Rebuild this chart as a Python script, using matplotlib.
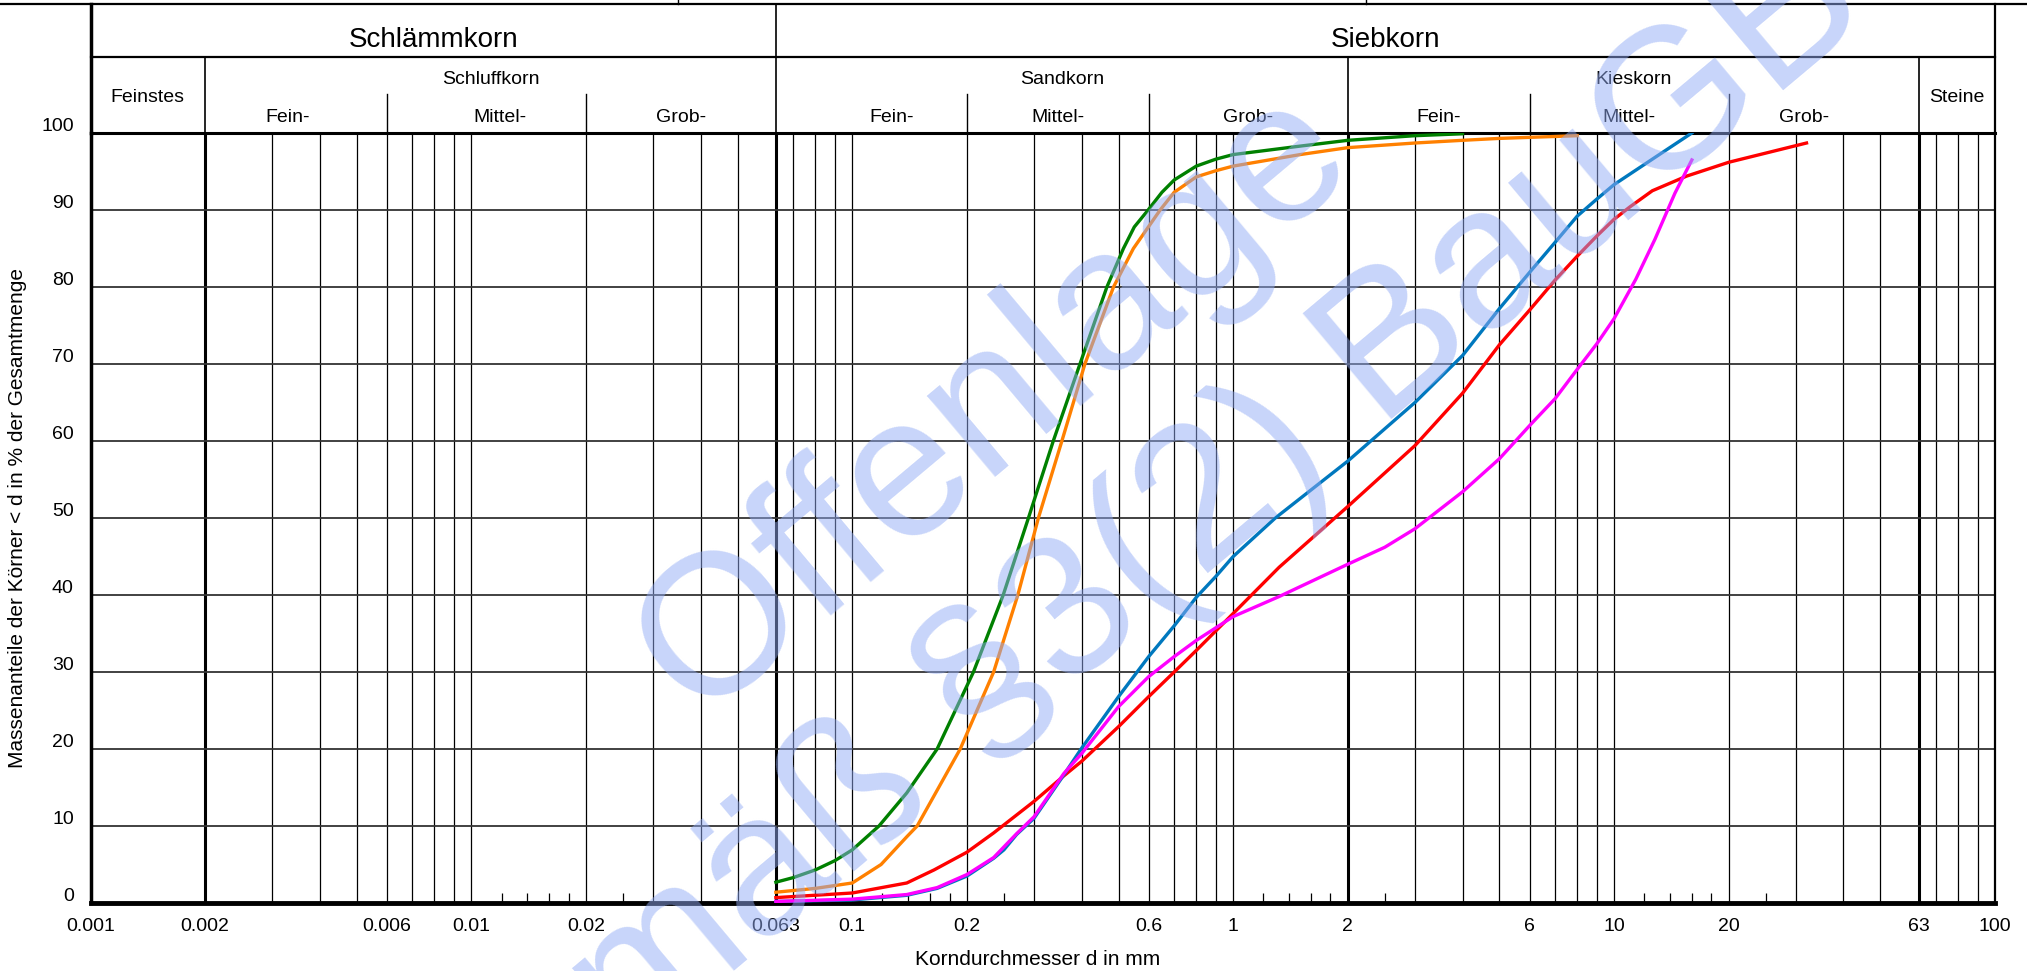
import matplotlib
matplotlib.use("Agg")
import matplotlib.pyplot as plt
from matplotlib.lines import Line2D
from matplotlib.ticker import NullLocator
from matplotlib.transforms import ScaledTranslation

# Körnungslinien, d in mm / Durchgang in %
green_d = [0.063, 0.07, 0.08, 0.09, 0.1, 0.1175, 0.139, 0.167, 0.208, 0.249, 0.29, 0.337,
           0.396, 0.466, 0.515, 0.55, 0.598, 0.65, 0.7, 0.8, 0.9, 1.0, 1.5, 2.0, 3.0, 4.0]
green_p = [2.7, 3.3, 4.3, 5.5, 6.9, 10.0, 14.3, 20.0, 30.0, 40.0, 50.0, 60.0,
           70.0, 80.0, 85.0, 87.8, 90.0, 92.3, 93.9, 95.7, 96.6, 97.2, 98.3, 99.05, 99.65, 99.9]

orange_d = [0.063, 0.08, 0.1, 0.119, 0.139, 0.148, 0.192, 0.235, 0.272, 0.308, 0.355, 0.408,
            0.485, 0.547, 0.643, 0.7, 0.8, 0.9, 1.0, 1.5, 2.0, 3.0, 4.0, 5.0, 8.0]
orange_p = [1.4, 1.9, 2.6, 5.0, 8.6, 10.0, 20.0, 30.0, 40.0, 50.0, 60.0, 70.0,
            80.0, 85.0, 90.0, 92.3, 94.3, 95.1, 95.7, 97.2, 98.1, 98.7, 99.05, 99.3, 99.65]

blue_d = [0.063, 0.1, 0.139, 0.167, 0.2, 0.235, 0.25, 0.27, 0.3, 0.352, 0.4, 0.5, 0.6, 0.7,
          0.8, 0.9, 1.0, 1.29, 2.0, 3.0, 4.0, 5.0, 6.0, 7.0, 8.0, 9.0, 10.0, 12.6, 16.0]
blue_p = [0.2, 0.4, 1.0, 1.9, 3.5, 5.8, 6.9, 8.9, 11.0, 16.0, 20.1, 26.8, 32.0, 36.0,
          39.7, 42.4, 45.0, 50.0, 57.4, 65.0, 71.1, 77.2, 81.9, 85.8, 89.2, 91.4, 93.3, 96.6, 100.0]

red_d = [0.063, 0.1, 0.139, 0.164, 0.2, 0.235, 0.3, 0.359, 0.4, 0.5, 0.6, 0.7, 0.8, 1.0,
         1.32, 2.0, 3.0, 4.0, 5.0, 6.0, 7.0, 8.0, 9.0, 10.0, 11.0, 12.6, 15.5, 20.0, 32.0]
red_p = [0.7, 1.3, 2.6, 4.3, 6.6, 9.1, 13.2, 16.5, 18.4, 22.9, 26.8, 30.0, 32.8, 37.6,
         43.6, 51.5, 59.4, 66.2, 72.5, 77.0, 80.9, 84.0, 86.6, 88.8, 90.4, 92.5, 94.4, 96.2, 98.7]

magenta_d = [0.063, 0.1, 0.139, 0.167, 0.2, 0.235, 0.27, 0.3, 0.359, 0.4, 0.5, 0.6, 0.7,
             0.8, 1.0, 1.32, 2.0, 2.5, 3.0, 4.0, 5.0, 6.0, 7.0, 8.0, 9.0, 10.0, 11.4, 12.8,
             14.45, 16.0]
magenta_p = [0.2, 0.5, 1.1, 2.0, 3.7, 5.9, 9.0, 11.2, 16.8, 19.4, 25.5, 29.4, 32.0,
             34.1, 37.2, 39.8, 44.0, 46.2, 48.6, 53.4, 57.7, 62.0, 65.5, 69.3, 72.6, 75.9,
             81.0, 86.2, 92.2, 96.5]

curves = [(green_d, green_p, "#008000"), (orange_d, orange_p, "#ff8000"),
          (red_d, red_p, "#ff0000"), (blue_d, blue_p, "#0078be"),
          (magenta_d, magenta_p, "#ff00ff")]

# Raster
grid_thin = [0.003, 0.004, 0.005, 0.006, 0.007, 0.008, 0.009, 0.01,
             0.02, 0.03, 0.04, 0.05, 0.07, 0.08, 0.09, 0.1,
             0.2, 0.3, 0.4, 0.5, 0.6, 0.7, 0.8, 0.9, 1,
             3, 4, 5, 6, 7, 8, 9, 10, 20, 30, 40, 50, 70, 80, 90]
grid_thick = [0.002, 0.063, 2, 63]
short_ticks = [0.012, 0.014, 0.016, 0.018, 0.025, 0.12, 0.14, 0.16, 0.18, 0.25,
               1.2, 1.4, 1.6, 1.8, 2.5, 12, 14, 16, 18, 25]
x_ticks = [0.001, 0.002, 0.006, 0.01, 0.02, 0.063, 0.1, 0.2, 0.6, 1, 2, 6, 10, 20, 63, 100]
x_labels = ["0.001", "0.002", "0.006", "0.01", "0.02", "0.063", "0.1", "0.2", "0.6",
            "1", "2", "6", "10", "20", "63", "100"]

# Kopfzeile
main_groups = [("Schlämmkorn", 0.001, 0.063), ("Siebkorn", 0.063, 100)]
groups = [("Schluffkorn", 0.002, 0.063), ("Sandkorn", 0.063, 2), ("Kieskorn", 2, 63)]
side_cols = [("Feinstes", 0.001, 0.002), ("Steine", 63, 100)]
sub_split = [0.006, 0.02, 0.2, 0.6, 6, 20]
sub_labels = [("Fein-", 0.0033), ("Mittel-", 0.0119), ("Grob-", 0.0355),
              ("Fein-", 0.127), ("Mittel-", 0.346), ("Grob-", 1.095),
              ("Fein-", 3.46), ("Mittel-", 10.95), ("Grob-", 31.6)]

W, H = 2027, 971
plt.rcParams["font.family"] = ["Liberation Sans", "DejaVu Sans"]

fig = plt.figure(figsize=(W / 100, H / 100), dpi=100)
ax = fig.add_axes([90.5 / W, 68 / H, (1995 - 90.5) / W, 770 / H])
ax.set_xscale("log")
ax.set_xlim(0.001, 100)
ax.set_ylim(0, 100)
ax.xaxis.set_minor_locator(NullLocator())

ax.vlines(grid_thin, 0, 100, color="black", lw=0.9, zorder=1)
ax.vlines(grid_thick, 0, 100, color="black", lw=2.2, zorder=1)
ax.vlines(short_ticks, 0, 1.3, color="black", lw=0.9, zorder=1)
ax.hlines(range(10, 100, 10), 0.001, 100, color="#333333", lw=1.3, zorder=1)

for d, p, c in curves:
    ax.plot(d, p, color=c, lw=2.4, zorder=3, solid_joinstyle="round")

for side, lw in [("left", 2.5), ("bottom", 3.5), ("top", 2.2), ("right", 1.6)]:
    ax.spines[side].set_linewidth(lw)

ax.set_xticks(x_ticks)
ax.set_xticklabels(x_labels, fontsize=14)
ax.set_yticks(range(0, 101, 10))
ax.set_yticklabels([str(v) for v in range(0, 101, 10)], fontsize=14)
ax.tick_params(axis="both", length=0)
ax.tick_params(axis="x", pad=11)
ax.tick_params(axis="y", pad=12)
for lbl in ax.get_yticklabels():
    lbl.set_transform(lbl.get_transform() + ScaledTranslation(0, 6 / 72, fig.dpi_scale_trans))

# Kopf in Achsenkoordinaten (y ueber 1)
tr = ax.get_xaxis_transform()
h_top, h_mid, h_sub = (903 - 4) / 770, (903 - 57) / 770, (903 - 94) / 770
hk = dict(transform=tr, clip_on=False, color="black")
ax.plot([0.001, 0.001], [1, h_top], lw=2.5, **hk)
ax.plot([100, 100], [1, h_top], lw=1.6, **hk)
ax.plot([0.001, 100], [h_mid, h_mid], lw=1.6, **hk)
ax.plot([0.063, 0.063], [h_mid, h_top], lw=1.2, **hk)
for x in grid_thick:
    ax.plot([x, x], [1, h_mid], lw=1.2, **hk)
for x in sub_split:
    ax.plot([x, x], [1, h_sub], lw=1.0, **hk)

for name, a, b in main_groups:
    ax.text((a * b) ** 0.5, (903 - 40) / 770, name, transform=tr, ha="center", va="center",
            fontsize=20)
for name, a, b in groups:
    ax.text((a * b) ** 0.5, (903 - 79) / 770, name, transform=tr, ha="center", va="center",
            fontsize=14)
for name, a, b in side_cols:
    ax.text((a * b) ** 0.5, (903 - 97) / 770, name, transform=tr, ha="center", va="center",
            fontsize=14)
for name, x in sub_labels:
    ax.text(x, (903 - 117) / 770, name, transform=tr, ha="center", va="center",
            fontsize=14)

# Linie am oberen Rand
fig.add_artist(Line2D([0, 1], [1 - 4 / H, 1 - 4 / H], color="black", lw=1.6))
for xp in [678, 1366]:
    fig.add_artist(Line2D([xp / W, xp / W], [1 - 4 / H, 1], color="black", lw=1.0))

fig.text(18 / W, 1 - 518 / H, "Massenanteile der Körner < d in % der Gesamtmenge",
         rotation=90, ha="center", va="center", fontsize=15)
fig.text(1038 / W, 1 - 959 / H, "Korndurchmesser d in mm", ha="center", va="center",
         fontsize=15)

# Wasserzeichen
fig.text(0.525, 0.50, "Offenlage\ngemäß §3(2) BauGB", ha="center", va="center",
         multialignment="center", rotation=40, rotation_mode="anchor", fontsize=144,
         color=(0.57, 0.67, 0.96), alpha=0.5, zorder=10)

fig.savefig("out.png", dpi=100)
